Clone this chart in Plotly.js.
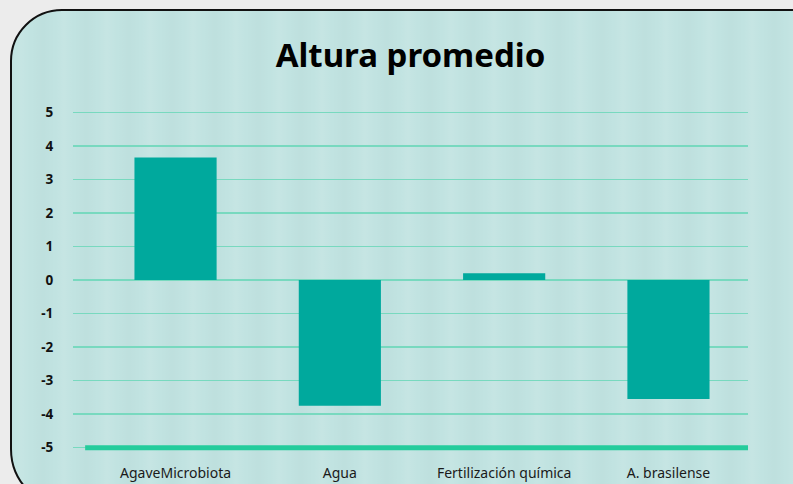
<!DOCTYPE html>
<html>
<head>
<meta charset="utf-8">
<script src="https://cdn.plot.ly/plotly-3.0.1.min.js"></script>
<style>
  html, body { margin: 0; padding: 0; width: 793px; height: 484px; overflow: hidden; background: #ececec; }
  #card {
    position: absolute; left: 10px; top: 9px; width: 820px; height: 500px;
    box-sizing: border-box; border: 2px solid #111; border-radius: 52px 0 0 60px;
    background: #c1e3e1;
    background-image: repeating-linear-gradient(90deg, rgba(255,255,255,0.0) 0px, rgba(255,255,255,0.08) 9px, rgba(255,255,255,0.0) 19px, rgba(0,0,0,0.015) 31px, rgba(255,255,255,0.0) 43px);
  }
  #chart { position: absolute; left: 0; top: 0; width: 793px; height: 484px; }
</style>
</head>
<body>
<div id="card"></div>
<div id="chart"></div>
<script>
const categories = ["AgaveMicrobiota", "Agua", "Fertilización química", "A. brasilense"];
const values = [3.65, -3.75, 0.2, -3.55];
const yTicks = [-5, -4, -3, -2, -1, 0, 1, 2, 3, 4, 5];
const chartTitle = "Altura promedio";

const trace = {
  type: "bar",
  x: categories,
  y: values,
  width: 0.5,
  marker: { color: "#00a99d", line: { width: 0 } },
  hoverinfo: "x+y"
};

const layout = {
  width: 793, height: 484,
  margin: { l: 73, r: 45, t: 109, b: 33 },
  paper_bgcolor: "rgba(0,0,0,0)",
  plot_bgcolor: "rgba(0,0,0,0)",
  showlegend: false,
  font: { family: "Noto Sans, Open Sans, sans-serif", color: "#111" },
  title: {
    text: "<b>" + chartTitle + "</b>",
    font: { size: 33, color: "#000", family: "Noto Sans, sans-serif" },
    x: 0.5, xref: "paper", xanchor: "center",
    y: 1 - 55 / 484, yref: "container", yanchor: "middle"
  },
  xaxis: {
    type: "category",
    range: [-0.624, 3.484],
    showgrid: false, zeroline: false, showline: false,
    ticks: "outside", ticklen: 9, tickcolor: "rgba(0,0,0,0)",
    tickfont: { size: 14, color: "#1a1a1a" }
  },
  yaxis: {
    range: [-5.1, 5.1],
    tickvals: yTicks,
    ticktext: yTicks.map(String),
    showgrid: true, gridcolor: "#78d9bf", gridwidth: 1.3,
    zeroline: false, showline: false,
    ticks: "outside", ticklen: 16, tickcolor: "rgba(0,0,0,0)",
    tickfont: { size: 13.5, color: "#111", weight: "bold" }
  },
  shapes: [
    {
      type: "line", xref: "paper", yref: "y",
      x0: 0.018, x1: 1.0, y0: -5, y1: -5,
      line: { color: "#24cc9c", width: 5 }
    }
  ]
};

Plotly.newPlot("chart", [trace], layout, { displayModeBar: false, staticPlot: true });
</script>
</body>
</html>
